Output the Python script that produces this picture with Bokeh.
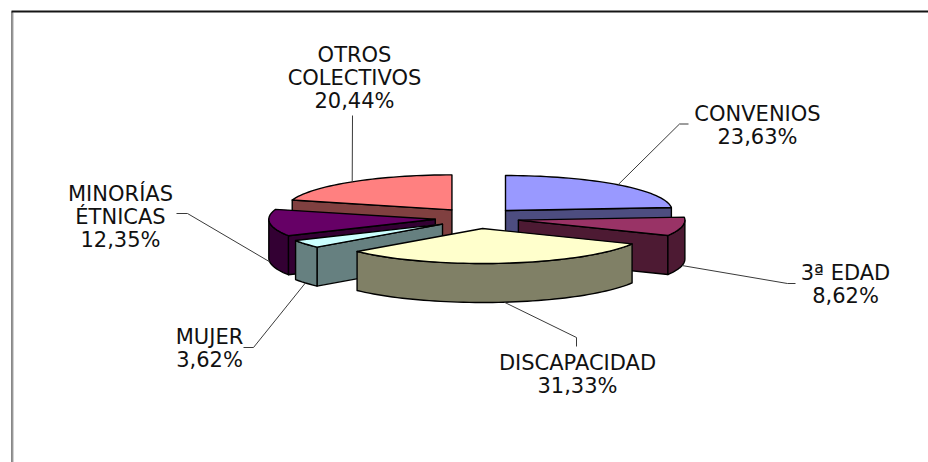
import math
from bokeh.plotting import figure
from bokeh.models import ColumnDataSource
from bokeh.core.properties import value
from bokeh.embed import file_html
from bokeh.resources import INLINE

# --- data ---
categories = ["CONVENIOS", "3ª EDAD", "DISCAPACIDAD", "MUJER", "MINORÍAS ÉTNICAS", "OTROS COLECTIVOS"]
shares = [23.63, 8.62, 31.33, 3.62, 12.35, 20.44]

# --- style ---
top_colors = ["#9999FF", "#993366", "#FFFFCC", "#CCFFFF", "#660066", "#FF8080"]
side_colors = ["#4D4D80", "#4D1A33", "#808066", "#668080", "#330033", "#804040"]
label_lines = [["CONVENIOS"], ["3ª EDAD"], ["DISCAPACIDAD"], ["MUJER"], ["MINORÍAS", "ÉTNICAS"], ["OTROS", "COLECTIVOS"]]

# --- layout (page pixels) ---
W, H = 928, 462
CX, CY = 476.6, 217.7      # pie centre
RX, RY = 166.5, 35.0       # ellipse radii
EX, EY = 42.0, 10.4        # explosion
DEPTH = 39.0
FONT = "DejaVu Sans"
FS = "21px"
LINE_H = 23.3
# label centre x, first-line centre y
label_pos = [(757, 113), (845, 272), (577, 362), (209, 336), (120, 193), (354, 54)]
# leader outer points, from outermost to the elbow
leader_out = [[(688, 123.5), (679, 123.5)], [(795, 283), (787, 283)], [(576, 346), (576, 337)],
              [(243, 347), (253, 347)], [(176, 213), (187, 213)], [(352, 115)]]
# back-to-front painting order
order = [5, 0, 4, 3, 1, 2]

p = figure(width=W, height=H, x_range=(0, W), y_range=(H, 0), toolbar_location=None,
           output_backend="svg", min_border=0, outline_line_color=None,
           background_fill_color="white", border_fill_color="white")
p.axis.visible = False
p.grid.visible = False

# chart frame (only top and left edges fall in view)
p.line([11.5, 11.5], [11, H], line_color="#111111", line_width=1)
p.line([12.5, 12.5], [12, H], line_color="#A8A8A8", line_width=1)
p.line([11, W], [11, 11], line_color="#151515", line_width=2)

total = sum(shares)
starts, ends, cum = [], [], 0.0
for v in shares:
    starts.append(cum / total * 360)
    cum += v
    ends.append(cum / total * 360)


def pt(ax, ay, deg):
    t = math.radians(deg)
    return ax + RX * math.sin(t), ay - RY * math.cos(t)


def arc(ax, ay, a, b):
    n = max(2, int(abs(b - a) / 2) + 1)
    return [pt(ax, ay, a + (b - a) * k / (n - 1)) for k in range(n)]


def draw(points, color):
    p.patch([q[0] for q in points], [q[1] for q in points], fill_color=color,
            line_color="black", line_width=1.4, line_join="round")


apexes = []
for i in range(len(shares)):
    mid = math.radians((starts[i] + ends[i]) / 2)
    apexes.append((CX + EX * math.sin(mid), CY - EY * math.cos(mid)))

for i in order:
    a, b = starts[i], ends[i]
    ax, ay = apexes[i]
    # radial walls
    if b < 180:
        e = pt(ax, ay, b)
        draw([(ax, ay), e, (e[0], e[1] + DEPTH), (ax, ay + DEPTH)], side_colors[i])
    if a > 180:
        e = pt(ax, ay, a)
        draw([(ax, ay), e, (e[0], e[1] + DEPTH), (ax, ay + DEPTH)], side_colors[i])
    # outer wall
    lo, hi = max(a, 90), min(b, 270)
    if lo < hi:
        top = arc(ax, ay, lo, hi)
        draw(top + [(x, y + DEPTH) for x, y in reversed(top)], side_colors[i])
    # top face
    draw([(ax, ay)] + arc(ax, ay, a, b), top_colors[i])

# leaders and labels
for i, v in enumerate(shares):
    m = (starts[i] + ends[i]) / 2
    ax, ay = apexes[i]
    x, y = pt(ax, ay, m)
    if 90 < m < 270:
        y += DEPTH
    pts = leader_out[i] + [(x, y)]
    p.line([q[0] for q in pts], [q[1] for q in pts], line_color="#3A3A3A", line_width=1)

    lines = label_lines[i] + [f"{v:.2f}".replace(".", ",") + "%"]
    lx, ly = label_pos[i]
    src = ColumnDataSource(dict(x=[lx] * len(lines), y=[ly + k * LINE_H for k in range(len(lines))], t=lines))
    p.text("x", "y", text="t", source=src, text_align="center", text_baseline="middle",
           text_font=value(FONT), text_font_size=FS, text_color="#111111")

open("out.html", "w").write(file_html(p, INLINE))
